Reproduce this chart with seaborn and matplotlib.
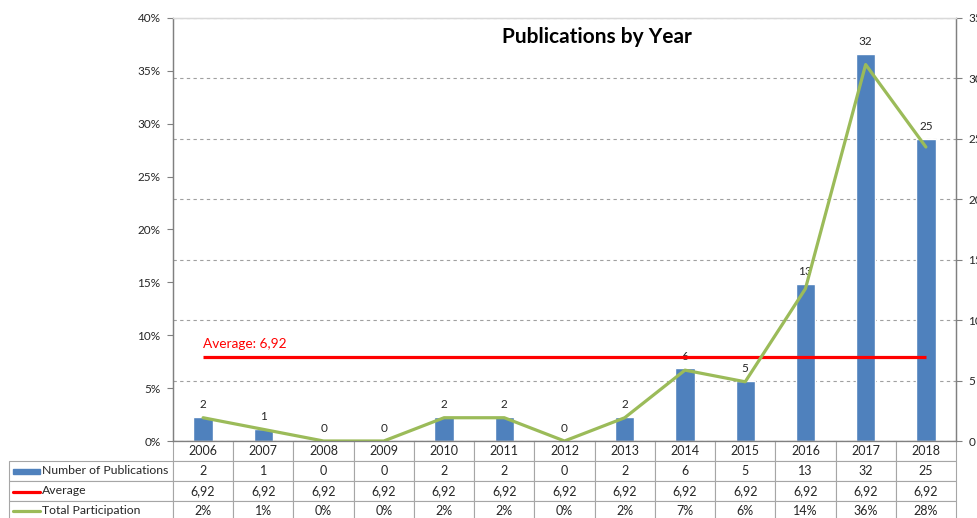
import numpy as np
import matplotlib
matplotlib.use("Agg")
import matplotlib.pyplot as plt
from matplotlib.patches import Rectangle
from matplotlib.lines import Line2D
import seaborn as sns

# data
years = ["2006", "2007", "2008", "2009", "2010", "2011", "2012",
         "2013", "2014", "2015", "2016", "2017", "2018"]
counts = [2, 1, 0, 0, 2, 2, 0, 2, 6, 5, 13, 32, 25]
share_pct = [2.2, 1.1, 0, 0, 2.2, 2.2, 0, 2.2, 6.7, 5.6, 14.4, 35.6, 27.8]
average = 6.92
row_names = ["Number of Publications", "Average", "Total Participation"]

blue = "#4F81BD"
red = "#FF0000"
green = "#9BBB59"
grey = "#A6A6A6"
txt = "#262626"

sns.set_style("white")
plt.rcParams["font.family"] = ["Lato", "DejaVu Sans"]

W, H = 977, 518
fig = plt.figure(figsize=(W / 100, H / 100), dpi=100)
L, R, T, B = 173, 956, 18, 441
ax = fig.add_axes([L / W, 1 - B / H, (R - L) / W, (B - T) / H])
ax2 = ax.twinx()

# bars + average on the count axis (right)
sns.barplot(x=years, y=counts, ax=ax2, color=blue, saturation=1, width=0.32, zorder=2)
ax2.bar_label(ax2.containers[0], fmt="%d", padding=5, fontsize=8.5, color=txt)
xs = np.arange(len(years))
ax2.plot([xs[0], xs[-1]], [average, average], color=red, lw=2.3, zorder=3, solid_capstyle="butt")
ax2.annotate("Average: " + f"{average:.2f}".replace(".", ","), (xs[0], average),
             xytext=(0, 5), textcoords="offset points", color=red, fontsize=9.8,
             ha="left", va="bottom")
ax2.set_ylim(0, 35)
ax2.set_yticks(range(0, 36, 5))
ax2.yaxis.grid(True, color="#A0A0A0", ls=(0, (3, 3)), lw=0.8)
ax2.set_axisbelow(True)
ax2.set_xlabel("")
ax2.set_ylabel("")

# participation line on the percent axis (left), drawn on top
ax.set_zorder(ax2.get_zorder() + 1)
ax.patch.set_visible(False)
sns.lineplot(x=xs, y=share_pct, ax=ax, color=green, linewidth=2.3)
ax.set_ylim(0, 40)
ax.set_yticks(range(0, 41, 5))
ax.set_yticklabels([f"{v}%" for v in range(0, 41, 5)])
ax.set_xlim(-0.5, len(years) - 0.5)
ax.set_xticks([])
ax2.set_xticks([])

for a in (ax, ax2):
    a.tick_params(axis="y", labelsize=8.5, colors=txt, length=4, width=0.8, pad=5,
                  color="#808080")
    for s in a.spines.values():
        s.set_color("#808080")
        s.set_linewidth(0.9)
ax.spines["top"].set_color("#D9D9D9")
ax2.spines["top"].set_color("#D9D9D9")

fig.text(597 / W, 1 - 37 / H, "Publications by Year", fontsize=15, fontweight="bold",
         ha="center", va="center", color="black")

# data table under the axis
rows = [[""] + years,
        [""] + [str(c) for c in counts],
        [""] + [f"{average:.2f}".replace(".", ",")] * len(years),
        [""] + [f"{p:.0f}%" for p in share_pct]]
lab_w = 173 - 9
col_w = (R - L) / len(years)
tbl = ax.table(cellText=rows, colWidths=[lab_w] + [col_w] * len(years), cellLoc="center",
               bbox=[(9 - L) / (R - L), -80 / (B - T), (R - 9) / (R - L), 80 / (B - T)])
tbl.auto_set_font_size(False)
tbl.set_fontsize(9)
for (r, c), cell in tbl.get_celld().items():
    cell.set_edgecolor(grey)
    cell.set_linewidth(0.8)
    cell.get_text().set_color(txt)
    if c == 0 and r == 0:
        cell.visible_edges = ""

# row labels with legend keys
row_y = [471, 491, 511]
for name, y in zip(row_names, row_y):
    fig.text(42 / W, 1 - y / H, name, fontsize=8.8, color=txt, ha="left", va="center",
             zorder=10)
fig.add_artist(Rectangle((13 / W, 1 - 474 / H), 27 / W, 5 / H, transform=fig.transFigure,
                         color=blue, zorder=10))
fig.add_artist(Line2D([13 / W, 40 / W], [1 - 491.5 / H] * 2, transform=fig.transFigure,
                      color=red, lw=2.3, zorder=10))
fig.add_artist(Line2D([13 / W, 40 / W], [1 - 511 / H] * 2, transform=fig.transFigure,
                      color=green, lw=2.3, zorder=10))

fig.savefig("out.png", dpi=100)
